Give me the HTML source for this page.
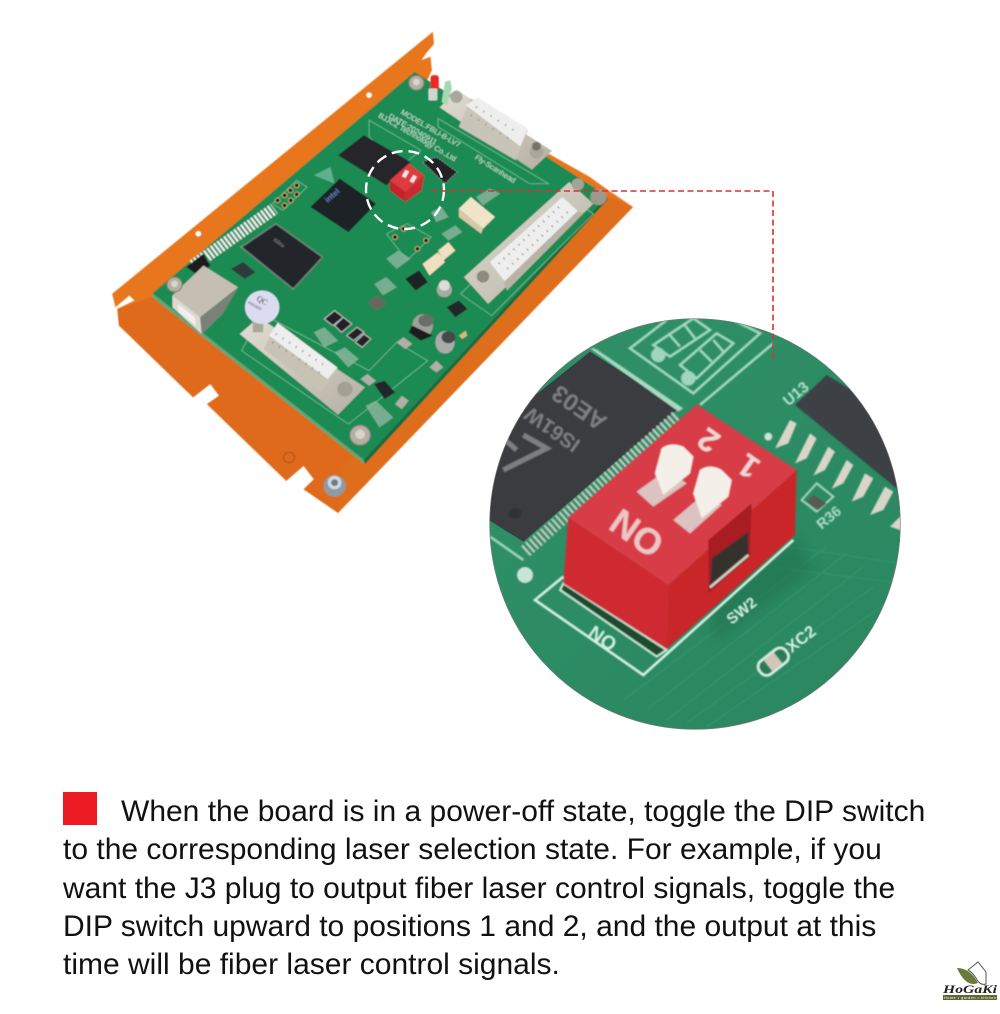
<!DOCTYPE html>
<html><head><meta charset="utf-8"><style>
html,body{margin:0;padding:0;background:#fff;width:1000px;height:1014px;overflow:hidden}
svg{display:block}
.t{font-family:"Liberation Sans",Arial,sans-serif;font-size:30px;fill:#111}
.s{font-family:"Liberation Sans",sans-serif;fill:#cfe8da}
</style></head><body>
<svg width="1000" height="1014" viewBox="0 0 1000 1014" xmlns="http://www.w3.org/2000/svg">
<defs>
<clipPath id="c"><circle cx="645" cy="642" r="616"/></clipPath>
<filter id="b1" x="-5%" y="-5%" width="110%" height="110%"><feGaussianBlur stdDeviation="1.2"/></filter>
<filter id="b2" x="-5%" y="-5%" width="110%" height="110%"><feGaussianBlur stdDeviation="2"/></filter>
<filter id="b3" x="-20%" y="-20%" width="140%" height="140%"><feGaussianBlur stdDeviation="18"/></filter>
<linearGradient id="g" x1="0" y1="0" x2="1" y2="1"><stop offset="0" stop-color="#2f9167"/><stop offset="1" stop-color="#2a8660"/></linearGradient>
<linearGradient id="si" x1="0" y1="0" x2="1" y2="1"><stop offset="0" stop-color="#e0ddd2"/><stop offset="1" stop-color="#b5b0a4"/></linearGradient>
</defs>

<!-- Board photo -->
<g transform="translate(100,20) scale(.345,.334)" filter="url(#b1)">
<polygon points="965,35 968,72 945,100 932,120 958,110 962,150 940,200 1300,400 1420,470 1460,500 1545,560 690,1476 590,1405 620,1375 590,1335 540,1380 310,1150 345,1125 320,1090 270,1130 55,915 50,865 100,840 85,825 45,860 35,820" fill="#e8761f"/>
<polygon points="55,915 50,865 160,825 760,1317 690,1476 590,1405 620,1375 590,1335 540,1380 310,1150 345,1125 320,1090 270,1130" fill="#df6a1c"/>
<polygon points="1470,527 1545,560 690,1476 700,1340" fill="#de6e1c"/>
<polygon points="912,155 152,818 765,1317 1470,527" fill="#1c8a52"/>
<polygon points="152,818 765,1317 768,1330 152,830" fill="#5aa87c"/>
<polygon points="765,1317 1470,527 1470,540 768,1330" fill="#126b3f"/>
<circle cx="780" cy="225" r="8" fill="#fff"/><circle cx="285" cy="640" r="8" fill="#fff"/>
<!-- silkscreen -->
<g fill="none" stroke="#7cc6a0" stroke-width="2">
<polygon points="980,295 1300,490 1260,490 1245,490 980,320"/>
<polygon points="1430,580 1135,885 1045,820 1340,520"/>
<polygon points="410,990 720,1210 950,1020 860,965 780,1050 470,880"/>
<polygon points="780,300 930,390 870,440 780,350"/>
<polygon points="830,640 890,610 960,650 890,720"/>
<polygon points="500,550 570,480 600,500 530,570"/>
</g>
<!-- chips -->
<polygon points="690,405 765,345 900,425 830,495" fill="#25282b"/>
<polygon points="610,560 695,475 800,550 720,635" fill="#1c2428"/>
<polygon points="410,680 510,610 645,710 560,805" fill="#23272a" stroke="#9a9a9a" stroke-width="5" stroke-dasharray="2 2"/>
<polygon points="935,425 975,410 1035,455 1000,490" fill="#202428" stroke="#aaa" stroke-width="3" stroke-dasharray="3 6"/>
<polygon points="885,775 925,750 950,785 915,810" fill="#1e2326"/>
<polygon points="380,745 415,725 450,755 420,775" fill="#2e3a38"/>
<polygon points="775,845 805,825 830,850 800,870" fill="#6a665c"/>
<polygon points="1005,860 1040,840 1065,865 1030,890" fill="#23282b"/>
<polygon points="795,1090 825,1080 855,1115 825,1135" fill="#24282a"/>
<!-- dual small -->
<g stroke="#bbb" stroke-width="3" fill="#202426">
<polygon points="650,895 680,870 705,890 675,915"/><polygon points="680,915 705,890 730,910 700,935"/>
<polygon points="715,945 745,920 765,935 735,960"/><polygon points="740,965 765,940 785,955 760,980"/>
</g>
<text transform="translate(660,548) rotate(-42)" style="font:bold 24px 'Liberation Sans',sans-serif;fill:#5b7db0">intel</text>
<text transform="translate(500,660) rotate(36)" style="font:16px 'Liberation Sans',sans-serif;fill:#8c8c8c">Xilinx</text>
<polygon points="620,465 668,440 680,490" fill="#5fb08f"/>
<!-- header strip -->
<polyline points="270,735 505,565" fill="none" stroke="#e8e8e8" stroke-width="36" stroke-dasharray="7 5"/>
<polygon points="250,740 300,700 320,735 285,765" fill="#1c1c1c"/>
<g fill="#1a1a1a" stroke="#c8b070" stroke-width="3">
<circle cx="515" cy="540" r="7"/><circle cx="535" cy="525" r="7"/><circle cx="552" cy="510" r="7"/><circle cx="570" cy="495" r="7"/>
<circle cx="535" cy="555" r="7"/><circle cx="553" cy="540" r="7"/><circle cx="570" cy="522" r="7"/>
<circle cx="855" cy="650" r="7"/><circle cx="880" cy="625" r="7"/><circle cx="945" cy="660" r="7"/><circle cx="920" cy="685" r="7"/>
</g>
<!-- DB9 top -->
<polygon points="985,262 1032,208 1310,392 1252,448" fill="url(#si)"/>
<polygon points="1040,320 1075,235 1240,330 1205,420" fill="#c9c4b8"/>
<polygon points="1060,255 1095,232 1240,325 1218,378" fill="#eeeeef"/>
<g fill="none" stroke="#8c8c8c" stroke-width="6" stroke-dasharray="3 22"><path d="M1090 260 1215 340M1075 285 1200 365"/></g>
<circle cx="1033" cy="230" r="18" fill="#a9a69c"/><circle cx="1265" cy="395" r="20" fill="#a9a69c"/><circle cx="1265" cy="378" r="13" fill="#77736a"/>
<polygon points="1015,180 1000,185 990,245 1005,255 1020,205" fill="#a5d8b0"/>
<rect x="958" y="165" width="24" height="45" rx="8" fill="#e62a28"/><rect x="952" y="205" width="26" height="36" rx="4" fill="#cfd5cf"/>
<!-- DB25 right -->
<polygon points="1360,485 1430,550 1125,850 1055,770" fill="url(#si)"/>
<polygon points="1340,530 1385,572 1175,785 1130,725" fill="#eeeeef"/>
<polygon points="1385,572 1400,580 1180,810 1170,785" fill="#b9b3a6"/>
<g fill="none" stroke="#8c8c8c" stroke-width="7" stroke-dasharray="3 17"><path d="M1330 560 1150 735M1355 575 1170 755"/></g>
<circle cx="1385" cy="492" r="18" fill="#a5a298"/><circle cx="1445" cy="530" r="24" fill="#9c998e"/><circle cx="1110" cy="768" r="18" fill="#8e8a7e"/>
<!-- DB15 -->
<polygon points="405,940 460,890 768,1100 690,1182" fill="url(#si)"/>
<polygon points="475,985 515,905 690,1045 640,1115" fill="#c8c2b4"/>
<polygon points="490,945 515,908 688,1040 660,1075" fill="#eeeeef"/>
<g fill="none" stroke="#8c8c8c" stroke-width="7" stroke-dasharray="3 20"><path d="M510 940 660 1040M500 965 650 1065"/></g>
<circle cx="458" cy="895" r="20" fill="#a5a095"/><rect x="443" y="890" width="30" height="45" fill="#aaa69a"/>
<circle cx="710" cy="1105" r="22" fill="#a39f93"/>
<!-- USB -->
<polygon points="210,825 300,735 400,800 355,880 295,940 210,860" fill="#c4bfb2"/>
<polygon points="210,825 290,890 295,940 210,860" fill="#dcd9d1"/>
<polygon points="290,890 400,800 355,880 295,940" fill="#7a8176"/>
<polygon points="225,850 275,890 278,915 228,875" fill="#f0f0f0"/>
<!-- QC -->
<circle cx="470" cy="860" r="50" fill="#dcdcf0"/>
<text transform="translate(452,838) rotate(30)" style="font:24px 'Liberation Serif',serif;fill:#222">QC</text>
<text transform="translate(428,848) rotate(30)" style="font:11px 'Liberation Sans',sans-serif;fill:#333">PASSED</text>
<g class="s" style="font-size:22px">
<text transform="translate(870,280) rotate(31)">MODEL:FBLI-B-LV7</text>
<text transform="translate(835,292) rotate(31)">DATE:20240911</text>
<text transform="translate(805,290) rotate(31)">BJJCZ Technology Co.,Ltd</text>
<text transform="translate(1085,415) rotate(33)">Fly-Scanhead</text>
</g>
<!-- relays, caps -->
<polygon points="1040,565 1075,530 1145,590 1110,625" fill="#efe4c8"/>
<polygon points="1040,565 1110,625 1105,640 1040,590" fill="#d6c9a8"/>
<polygon points="935,730 980,695 1000,725 955,765" fill="#eee0c0"/>
<polygon points="980,690 1010,665 1030,690 995,720" fill="#eee0c0"/>
<circle cx="998" cy="808" r="22" fill="#a8aaa5"/><circle cx="998" cy="795" r="16" fill="#dcdcd8"/>
<ellipse cx="935" cy="915" rx="30" ry="34" fill="#9ea09a"/><ellipse cx="945" cy="900" rx="22" ry="18" fill="#6a6d68"/>
<polygon points="895,935 930,960 965,945 905,915" fill="#1a1a1a"/>
<ellipse cx="1000" cy="965" rx="28" ry="34" fill="#a9aba6"/><ellipse cx="1010" cy="950" rx="20" ry="18" fill="#45484a"/>
<polygon points="1040,945 1060,930 1065,945 1050,955" fill="#d9b878"/>
<g fill="#b0b0a8"><polygon points="860,965 880,950 905,970 885,985"/><polygon points="955,1040 975,1020 995,1040 975,1055"/><polygon points="755,1075 775,1060 800,1080 780,1095"/><polygon points="855,1150 875,1125 895,1140 875,1165"/></g>
<g fill="#8fb8a0" opacity=".8">
<polygon points="830,715 865,690 900,715 860,745"/><polygon points="795,790 830,770 860,800 820,825"/><polygon points="990,640 1030,615 1050,635 1010,660"/><polygon points="620,935 650,920 690,960 650,980"/><polygon points="680,995 710,980 750,1015 720,1040"/><polygon points="960,575 990,560 1010,590 975,605"/><polygon points="1090,530 1130,505 1160,520 1110,555"/><polygon points="770,1155 800,1140 850,1190 810,1220"/>
</g>
<g fill="#b4b0a4" stroke="#7e7a70" stroke-width="3">
<circle cx="917" cy="188" r="22"/><circle cx="216" cy="792" r="22"/><circle cx="754" cy="1243" r="30"/>
</g>
<g fill="#d8d5cc"><circle cx="917" cy="186" r="10"/><circle cx="216" cy="790" r="10"/><circle cx="754" cy="1240" r="14"/></g>
<circle cx="680" cy="1395" r="32" fill="#8f9aa2"/><circle cx="680" cy="1385" r="20" fill="#cfd8e0"/><circle cx="680" cy="1385" r="10" fill="#707a82"/>
<circle cx="548" cy="1310" r="16" fill="none" stroke="#8a4a12" stroke-width="2"/>
<!-- Red DIP -->
<polygon points="895,430 940,465 885,515 840,480" fill="#dc3a40"/>
<polygon points="840,480 885,515 885,545 840,510" fill="#c4242c"/>
<polygon points="885,515 940,465 932,510 885,545" fill="#cb2a30"/>
<rect x="880" y="450" width="12" height="22" fill="#f0e6e6" transform="rotate(30 886 460)"/>
<rect x="902" y="465" width="12" height="22" fill="#f0e6e6" transform="rotate(30 908 476)"/>
</g>
<circle cx="405" cy="190" r="39" fill="none" stroke="#fff" stroke-width="2.4" stroke-dasharray="11 6"/>

<!-- Zoom circle -->
<g transform="translate(480,310) scale(.33333)">
<g clip-path="url(#c)">
<rect x="0" y="0" width="1290" height="1290" fill="url(#g)"/>
<g stroke="#3a9b70" stroke-width="5" opacity=".5" filter="url(#b2)">
<path d="M500 1200 1100 730M560 1230 1150 770M620 1240 1180 830M680 1250 1220 880M430 1170 1040 710M850 700 1260 760M870 770 1260 820"/>
</g>
<polygon points="330,125 595,295 130,695 10,620 10,380" fill="#3a3c40"/>
<g filter="url(#b2)">
<polygon points="330,115 345,115 610,295 595,305" fill="#a8d8c0"/>
<polyline points="30,680 130,750" stroke="#9cd4b8" stroke-width="8" fill="none"/>
<polyline points="590,320 135,725" fill="none" stroke="#ccc9c2" stroke-width="40" stroke-dasharray="7 8"/>
<text transform="translate(385,325) rotate(-145)" style="font:bold 72px 'Liberation Sans',sans-serif;fill:#7d7f82">AE03</text>
<text transform="translate(305,395) rotate(-145)" style="font:bold 62px 'Liberation Sans',sans-serif;fill:#7d7f82">IS61W</text>
<g fill="none" stroke="#7d7f82" stroke-width="16"><polyline points="70,480 200,415 130,375"/><polyline points="70,385 110,420"/></g>
<ellipse cx="105" cy="610" rx="20" ry="15" fill="#2f3034"/>
<!-- silkscreen top -->
<g fill="none" stroke="#a3d8be" stroke-width="8">
<polyline points="560,30 450,115 640,250 840,70 760,30"/>
<polygon points="520,105 640,25 690,60 570,140"/>
<polygon points="600,165 710,70 760,100 650,205"/>
<path d="M565,70 600,110M610,40 645,85M660,120 695,155M700,90 730,125"/>
<polyline points="660,285 880,100"/>
</g>
<circle cx="535" cy="135" r="22" fill="#9fd6bd"/><circle cx="625" cy="205" r="22" fill="#9fd6bd"/>
<!-- right chip -->
<polygon points="1040,195 1280,340 1280,560 945,285" fill="#3c3f45"/>
<g fill="#d9d5c8">
<polygon points="930,330 950,340 925,400 885,415"/><polygon points="990,370 1010,385 980,445 945,460"/><polygon points="1045,410 1065,425 1035,480 1000,497"/><polygon points="1100,450 1120,465 1090,520 1055,537"/><polygon points="1155,490 1180,505 1150,560 1115,575"/><polygon points="1215,530 1240,545 1210,600 1170,615"/><polygon points="1260,620 1280,620 1260,660 1230,650"/>
</g>
<text transform="translate(925,290) rotate(-40)" style="font:bold 46px 'Liberation Sans',sans-serif;fill:#b6e0cc">U13</text>
<polygon points="1010,520 1060,560 1010,605 965,570" fill="none" stroke="#a8d8c0" stroke-width="6"/>
<polygon points="1000,555 1040,580 1015,600 980,575" fill="#5a5a52"/>
<text transform="translate(1025,660) rotate(-40)" style="font:bold 44px 'Liberation Sans',sans-serif;fill:#b0ddc7">R36</text>
<circle cx="865" cy="380" r="12" fill="#c8e4d6"/><circle cx="135" cy="795" r="24" fill="#c8e4d6"/>
</g>
<polygon points="690,860 950,680 1000,780 700,1000" fill="#1b6a47" opacity=".45" filter="url(#b3)"/>
<g filter="url(#b2)">
<polyline points="250,800 165,870 490,1095 940,690" fill="none" stroke="#d6efe2" stroke-width="8"/>
<polygon points="240,840 530,1040 560,1020 250,820" fill="#1f4c2f" stroke="#cde8da" stroke-width="6"/>
<text text-anchor="middle" dy="20" transform="translate(368,985) rotate(-145)" style="font:bold 58px 'Liberation Sans',sans-serif;fill:#d6efe2">ON</text>
<text transform="translate(755,945) rotate(-38)" style="font:bold 46px 'Liberation Sans',sans-serif;fill:#d6efe2">SW2</text>
<text transform="translate(935,1030) rotate(-38)" style="font:bold 50px 'Liberation Sans',sans-serif;fill:#d6efe2">XC2</text>
<rect x="830" y="1030" width="100" height="50" rx="22" transform="rotate(-38 880 1055)" fill="#2c7a58" stroke="#d6efe2" stroke-width="8"/>
<rect x="860" y="1033" width="38" height="44" fill="#cfc8ba" transform="rotate(-38 880 1055)"/>
<!-- Red switch -->
<polygon points="650,283 950,480 565,825 265,622" fill="#d83c46"/>
<polygon points="265,622 565,825 560,1017 250,820" fill="#cf2a30"/>
<polygon points="565,825 950,480 945,675 560,1017" fill="#c9262c"/>
<polygon points="685,690 815,580 810,740 685,850" fill="#a81e24"/>
<polygon points="695,745 805,665 805,730 690,825" fill="#34322f"/>
<polyline points="690,832 805,735" stroke="#c8ddcc" stroke-width="7"/>
<polygon points="470,545 560,480 620,520 520,590" fill="#dcc2c0"/>
<polygon points="580,630 680,545 725,585 630,670" fill="#dcc2c0"/>
<path d="M525,490 L545,415 Q570,395 610,410 L640,440 L630,490 L550,555 Z" fill="#f4efe9"/>
<path d="M640,550 L660,480 Q690,460 725,480 L755,510 L745,560 L665,625 Z" fill="#f4efe9"/>
<text text-anchor="middle" dy="38" transform="translate(470,670) rotate(-145)" style="font:bold 110px 'Liberation Sans',sans-serif;fill:#ecc6c6">ON</text>
<text text-anchor="middle" dy="34" transform="translate(685,392) rotate(-145)" style="font:bold 96px 'Liberation Sans',sans-serif;fill:#f0d6d6">2</text>
<text text-anchor="middle" dy="34" transform="translate(805,470) rotate(-145)" style="font:bold 96px 'Liberation Sans',sans-serif;fill:#f0d6d6">1</text>
</g>
</g>
<circle cx="645" cy="642" r="616" fill="none" stroke="#777" stroke-width="2"/>
</g>

<polyline points="431,191 773,191 773,362" fill="none" stroke="#d9303a" stroke-width="1.6" stroke-dasharray="6 3.5"/>

<rect x="63" y="792" width="34" height="33" fill="#ed1c24"/>
<text class="t" x="121" y="821">When the board is in a power-off state, toggle the DIP switch</text>
<text class="t" x="63" y="859">to the corresponding laser selection state. For example, if you</text>
<text class="t" x="63" y="898">want the J3 plug to output fiber laser control signals, toggle the</text>
<text class="t" x="63" y="936">DIP switch upward to positions 1 and 2, and the output at this</text>
<text class="t" x="63" y="974">time will be fiber laser control signals.</text>

<g>
<path d="M957,968 Q970,968 978,983 Q966,988 957,968Z" fill="#6a7a3a"/>
<path d="M968,970 L978,962 L986,972 L986,984 Q980,986 976,978 Q972,972 968,970Z" fill="#fff" stroke="#555" stroke-width="1"/>
<text x="943" y="993" style="font:italic bold 11.5px 'Liberation Serif',serif;fill:#222" textLength="54" lengthAdjust="spacingAndGlyphs">HoGaKi</text>
<rect x="943" y="995" width="54" height="5" fill="#5b6a34"/>
<text x="944" y="999" style="font:3.8px 'Liberation Sans',sans-serif;fill:#fff" textLength="52">Home • garden • kitchen</text>
</g>
</svg>
</body></html>
